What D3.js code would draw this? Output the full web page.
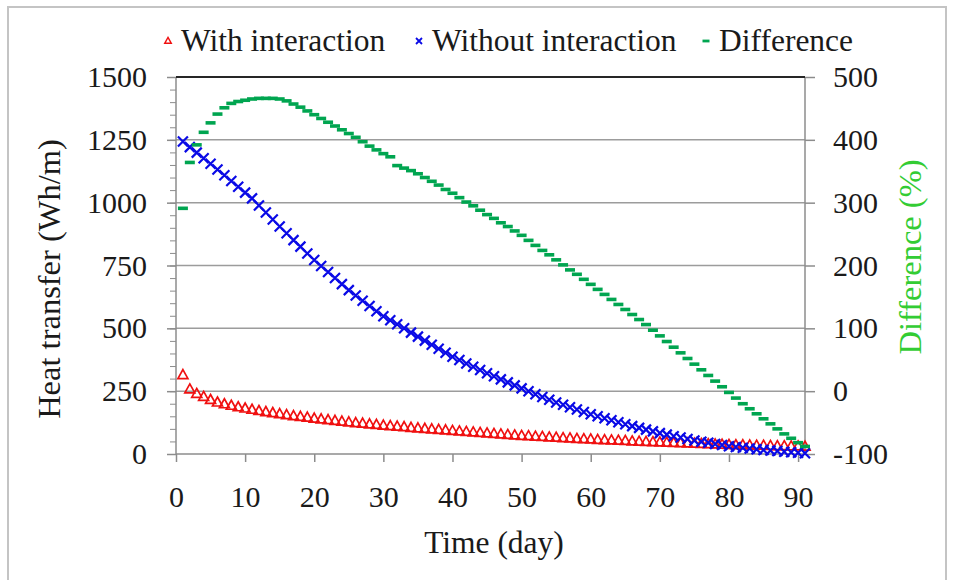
<!DOCTYPE html>
<html>
<head>
<meta charset="utf-8">
<script src="https://cdn.jsdelivr.net/npm/d3@7"></script>
<style>
  body { margin: 0; background: #fff; }
</style>
</head>
<body>
<div id="chart"></div>
<script>
// days 1..91
var days = d3.range(1, 92);

// heat transfer with interaction (Wh/m)
var withInteraction = [314, 257, 239, 227, 215, 205, 198, 192, 186, 181,
  176, 171, 167, 163, 159, 155, 151, 148, 145, 141,
  138, 135, 132, 129, 126, 123, 121, 118, 116, 113,
  111, 109, 107, 104, 102, 100, 98, 96, 94, 92,
  90, 88, 86, 84, 82, 80, 78, 76, 74, 72,
  71, 69, 68, 66, 65, 63, 62, 60, 59, 58,
  56, 55, 54, 53, 52, 50, 49, 48, 47, 46,
  45, 44, 43, 42, 41, 40, 39, 38, 37, 36,
  35, 35, 34, 33, 33, 32, 31, 31, 30, 30, 29];

// heat transfer without interaction (Wh/m)
var withoutInteraction = [1243, 1221, 1199, 1177, 1155, 1132, 1109, 1086, 1063, 1040,
  1017, 989, 961, 933, 905, 878, 851, 825, 798, 772,
  748, 724, 700, 676, 652, 631, 610, 589, 568, 548,
  532, 516, 500, 483, 467, 451, 435, 419, 403, 387,
  374, 360, 347, 334, 321, 309, 297, 285, 273, 261,
  250, 238, 227, 216, 205, 196, 186, 177, 167, 158,
  150, 142, 134, 126, 118, 111, 104, 97, 90, 83,
  77, 71, 66, 60, 54, 49, 45, 40, 36, 31,
  28, 25, 22, 19, 16, 14, 12, 9, 7, 5, 3];

// difference (%) - right axis
var difference = [291, 364, 392, 412, 427, 441, 451, 458, 461, 463,
  465, 466, 466, 466, 465, 462, 457, 452, 446, 440,
  434, 428, 422, 416, 410, 404, 397, 390, 384, 378,
  373, 359, 355, 351, 346, 340, 334, 328, 321, 315,
  308, 301, 295, 288, 281, 275, 268, 262, 255, 248,
  240, 232, 224, 217, 209, 201, 193, 186, 178, 170,
  162, 154, 146, 138, 130, 122, 114, 106, 97, 88,
  79, 70, 61, 52, 43, 34, 25, 16, 7, -2,
  -11, -20, -28, -36, -44, -52, -60, -68, -75, -82, -88];

var xTicks = [0, 10, 20, 30, 40, 50, 60, 70, 80, 90];
var leftTicks = [0, 250, 500, 750, 1000, 1250, 1500];
var rightTicks = [-100, 0, 100, 200, 300, 400, 500];
var seriesNames = ["With interaction", "Without interaction", "Difference"];

var W = 955, H = 580;
var plot = {left: 176, right: 805, top: 77, bottom: 454};
var font = "'Liberation Serif'";
var plain = function(d) { return String(d); };   // keep "-100" with a plain hyphen, no thousands comma

// touch the font once through a canvas so it is ready before the svg text is laid out
var warm = document.createElement("canvas").getContext("2d");
warm.font = "30px " + font;
warm.measureText("Heat transfer 1500");

var svg = d3.select("#chart").append("svg")
    .attr("width", W)
    .attr("height", H);

// outer frame
svg.append("rect")
    .attr("x", 8).attr("y", 7)
    .attr("width", 938).attr("height", 590)
    .attr("fill", "none")
    .attr("stroke", "#c4c4c4")
    .attr("stroke-width", 2);

var x = d3.scaleLinear().domain([0, 91]).range([plot.left, plot.right]);
var yL = d3.scaleLinear().domain([0, 1500]).range([plot.bottom, plot.top]);
var yR = d3.scaleLinear().domain([-100, 500]).range([plot.bottom, plot.top]);

// gridlines
svg.append("g")
  .selectAll("line")
  .data(leftTicks.filter(function(d) { return d > 0 && d < 1500; }))
  .enter().append("line")
    .attr("x1", plot.left).attr("x2", plot.right)
    .attr("y1", function(d) { return yL(d); })
    .attr("y2", function(d) { return yL(d); })
    .attr("stroke", "#9c9c9c")
    .attr("stroke-width", 1.5);

function styleAxis(g) {
  g.attr("font-family", null);
  g.select(".domain").remove();
  g.selectAll("line").attr("stroke", "#8c8c8c").attr("stroke-width", 1.5);
  g.selectAll("text").style("font-family", font).style("font-size", "30px").attr("fill", "#1a1a1a");
}

// minor ticks on left axis
svg.append("g")
    .attr("transform", "translate(" + plot.left + ",0)")
    .call(d3.axisLeft(yL).tickValues(d3.range(0, 1501, 50)).tickSize(6).tickFormat(""))
    .call(function(g) { g.select(".domain").remove(); })
    .call(function(g) { g.selectAll("line").attr("stroke", "#8c8c8c").attr("stroke-width", 1); });

// left axis
svg.append("g")
    .attr("transform", "translate(" + plot.left + ",0)")
    .call(d3.axisLeft(yL).tickValues(leftTicks).tickFormat(plain).tickSize(9).tickPadding(20))
    .call(styleAxis);

// right axis
svg.append("g")
    .attr("transform", "translate(" + plot.right + ",0)")
    .call(d3.axisRight(yR).tickValues(rightTicks).tickFormat(plain).tickSize(10).tickPadding(18))
    .call(styleAxis);

// bottom axis
svg.append("g")
    .attr("transform", "translate(0," + plot.bottom + ")")
    .call(d3.axisBottom(x).tickValues(xTicks).tickFormat(plain).tickSize(8).tickPadding(24))
    .call(styleAxis);

// axis lines
svg.append("line")
    .attr("x1", plot.left).attr("x2", plot.left)
    .attr("y1", plot.top).attr("y2", plot.bottom)
    .attr("stroke", "#8c8c8c").attr("stroke-width", 1.5);
svg.append("line")
    .attr("x1", plot.right).attr("x2", plot.right)
    .attr("y1", plot.top).attr("y2", plot.bottom)
    .attr("stroke", "#8c8c8c").attr("stroke-width", 1.5);
svg.append("line")
    .attr("x1", plot.left).attr("x2", plot.right)
    .attr("y1", plot.bottom).attr("y2", plot.bottom)
    .attr("stroke", "#8c8c8c").attr("stroke-width", 1.5);
svg.append("line")
    .attr("x1", plot.left).attr("x2", plot.right)
    .attr("y1", plot.top).attr("y2", plot.top)
    .attr("stroke", "#262626").attr("stroke-width", 2);

// markers
var triPath = "M0,-5.5L5,3.5L-5,3.5Z";
var crossPath = "M-5,-5L5,5M-5,5L5,-5";
var dashPath = "M-5,0L5,0";

function drawSeries(values, yScale, path, color, width) {
  svg.append("g")
    .selectAll("path")
    .data(values)
    .enter()
    .append("path")
      .attr("transform", function(d, i) { return "translate(" + x(days[i]) + "," + yScale(d) + ")"; })
      .attr("d", path)
      .attr("fill", "none")
      .attr("stroke", color)
      .attr("stroke-width", width);
}

drawSeries(withInteraction, yL, triPath, "#f01010", 1.7);
drawSeries(withoutInteraction, yL, crossPath, "#0a0ae6", 2.2);
drawSeries(difference, yR, dashPath, "#00a550", 3.6);

// legend
var legendItems = [
  {name: seriesNames[0], x: 168, path: "M0,-3.6L3.3,2.3L-3.3,2.3Z", color: "#f01010", w: 1.4},
  {name: seriesNames[1], x: 419, path: "M-3,-3L3,3M-3,3L3,-3", color: "#0a0ae6", w: 1.8},
  {name: seriesNames[2], x: 706, path: "M-3.5,0L3.5,0", color: "#00a550", w: 2.8}
];
var legend = svg.append("g");
legendItems.forEach(function(d) {
  legend.append("path")
      .attr("transform", "translate(" + d.x + ",41)")
      .attr("d", d.path)
      .attr("fill", "none")
      .attr("stroke", d.color)
      .attr("stroke-width", d.w);
  legend.append("text")
      .attr("x", d.x + 13)
      .attr("y", 51)
      .style("font-family", font)
      .style("font-size", "31.5px")
      .attr("fill", "#1a1a1a")
      .text(d.name);
});

// axis titles
svg.append("text")
    .attr("transform", "translate(60,279) rotate(-90)")
    .attr("text-anchor", "middle")
    .style("font-family", font)
    .style("font-size", "32.5px")
    .attr("fill", "#1a1a1a")
    .text("Heat transfer (Wh/m)");

svg.append("text")
    .attr("transform", "translate(921,257) rotate(-90)")
    .attr("text-anchor", "middle")
    .style("font-family", font)
    .style("font-size", "32.5px")
    .attr("fill", "#33cc33")
    .text("Difference (%)");

svg.append("text")
    .attr("x", 494)
    .attr("y", 553)
    .attr("text-anchor", "middle")
    .style("font-family", font)
    .style("font-size", "31.5px")
    .attr("fill", "#1a1a1a")
    .text("Time (day)");
</script>
</body>
</html>
